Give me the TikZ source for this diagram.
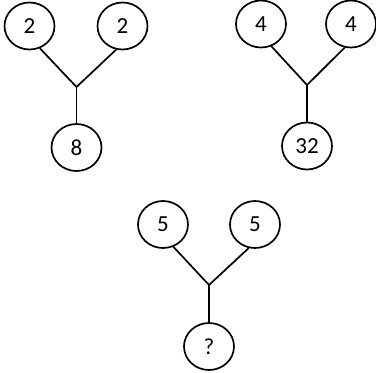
\documentclass[tikz,border=0pt]{standalone}
\usepackage{fontspec}
\setmainfont{Carlito}
\usetikzlibrary{shapes.geometric}

\begin{document}
\begin{tikzpicture}[x=1pt, y=-1pt,
    num/.style={draw, ellipse, minimum width=50pt, minimum height=47pt,
      inner sep=0pt, line width=1.7pt, font=\fontsize{23}{26}\selectfont},
    stem/.style={line width=1.7pt}]
  \useasboundingbox (0,0) rectangle (376,373);

  % Tree 1: 2, 2 -> 8
  \node[num] (l1) at (29.5, 26) {2};
  \node[num] (r1) at (122.5, 26) {2};
  \node[num] (b1) at (76.5, 147.5) {8};
  \coordinate (j1) at (76.5, 87);
  \draw[stem] (l1.-65) -- (j1) -- (r1.-105);
  \draw[stem] (j1) -- (b1);

  % Tree 2: 4, 4 -> 32
  \node[num] (l2) at (261, 24) {4};
  \node[num] (r2) at (351, 24) {4};
  \node[num] (b2) at (307, 146) {32};
  \coordinate (j2) at (307, 85);
  \draw[stem] (l2.-65) -- (j2) -- (r2.-105);
  \draw[stem] (j2) -- (b2);

  % Tree 3: 5, 5 -> ?
  \node[num] (l3) at (163, 224.5) {5};
  \node[num] (r3) at (255, 224.5) {5};
  \node[num] (b3) at (209, 346.5) {?};
  \coordinate (j3) at (209, 285);
  \draw[stem] (l3.-65) -- (j3) -- (r3.-105);
  \draw[stem] (j3) -- (b3);

\end{tikzpicture}
\end{document}
